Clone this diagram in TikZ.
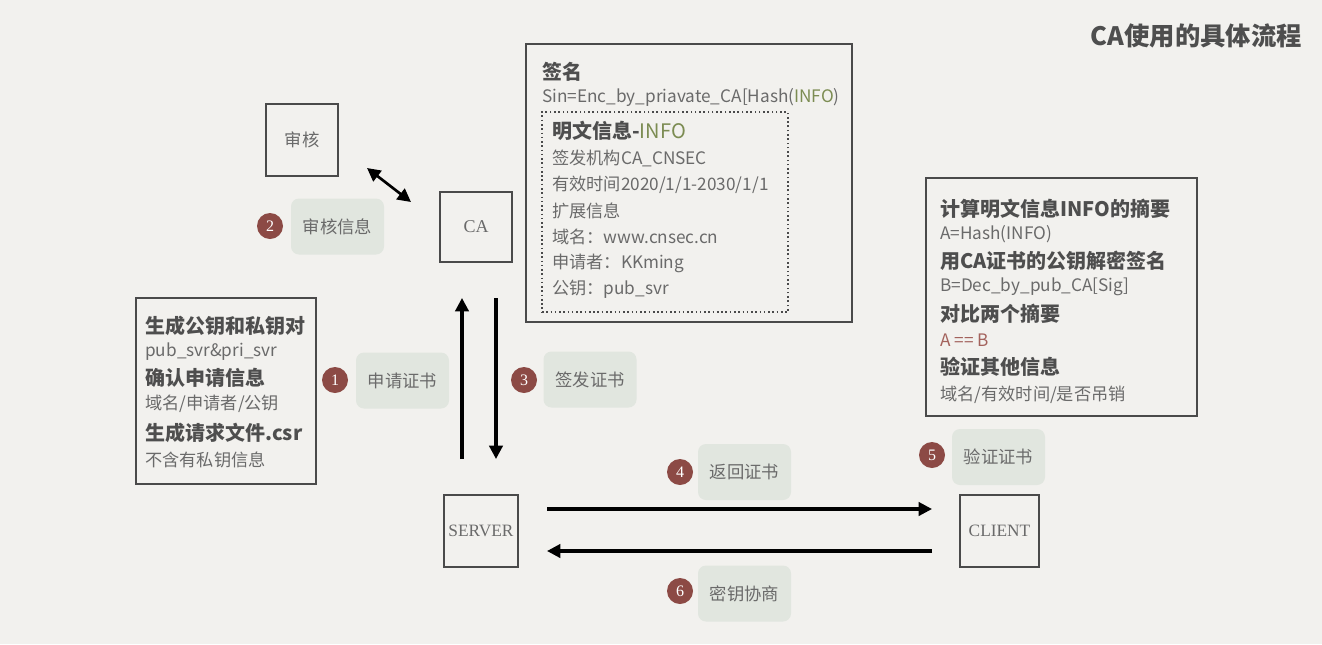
\documentclass[tikz,border=0pt]{standalone}
\usepackage{fontspec}
\setmainfont{Noto Sans CJK SC}
\newfontfamily\latser{Liberation Serif}
\usetikzlibrary{arrows.meta,calc}
\definecolor{bg}{HTML}{F2F1EE}
\definecolor{frame}{HTML}{4A4A4A}
\definecolor{txt}{HTML}{6A6A6A}
\definecolor{txtb}{HTML}{4E4E4E}
\definecolor{lab}{HTML}{E1E6DF}
\definecolor{badge}{HTML}{8C4A45}
\definecolor{info}{HTML}{7C8C52}
\definecolor{eqc}{HTML}{A3625C}
\tikzset{
  ent/.style={draw=frame, line width=1.5pt, fill=none, inner sep=0pt, text=txt},
  panel/.style={draw=frame, line width=1.8pt, inner sep=0pt},
  lbl/.style={fill=lab, rounded corners=6pt, minimum width=69.75pt, minimum height=42pt, inner sep=0pt, text=txt, font=\fontsize{13}{15}\selectfont},
  badgec/.style={circle, fill=badge, minimum size=19.5pt, inner sep=0pt, text=white, font=\latser\fontsize{12}{13}\selectfont},
  hd/.style={anchor=west, inner sep=0pt, text=txtb, font=\fontsize{15}{17}\selectfont\bfseries},
  rg/.style={anchor=west, inner sep=0pt, text=txt, font=\fontsize{12.9}{15}\selectfont},
  arr/.style={line width=2.3pt, -{Triangle[length=10pt,width=10pt]}},
  arrtwo/.style={line width=2pt, {Triangle[length=10pt,width=10pt]}-{Triangle[length=10pt,width=10pt]}}
}
\begin{document}
\begin{tikzpicture}[x=0.75pt,y=-0.75pt]
\fill[bg] (0,0) rectangle (1322,644);
\useasboundingbox (0,0) rectangle (1322,644);

% title
\node[anchor=east, inner sep=0pt, text=txtb, font=\fontsize{19}{21}\selectfont\bfseries] (title) at (1302,36) {CA使用的具体流程};

% entities
\node[ent, minimum width=54pt, minimum height=54pt, font=\fontsize{13}{15}\selectfont] (sh) at (302,140) {审核};
\node[ent, minimum width=54pt, minimum height=52.5pt, font=\latser\fontsize{13.5}{15}\selectfont] (ca) at (476,227) {CA};
\node[ent, minimum width=55.5pt, minimum height=54pt, font=\latser\fontsize{13}{15}\selectfont] (srv) at (481,531) {SERVER};
\node[ent, minimum width=59.25pt, minimum height=54pt, font=\latser\fontsize{13}{15}\selectfont] (cli) at (999.5,531) {CLIENT};

% signature panel
\node[panel, minimum width=244.5pt, minimum height=208.5pt] (sig) at (689,183) {};
\node[draw=frame, line width=1.2pt, dotted, minimum width=184.5pt, minimum height=150pt, inner sep=0pt] (infobox) at (665,212) {};
\node[hd] (s1) at (542,72) {签名};
\node[rg] (s2) at (542,97) {Sin=Enc\_by\_priavate\_CA[Hash(\textcolor{info}{INFO})};
\node[hd] (s3) at (552,131) {明文信息-{\mdseries\textcolor{info}{INFO}}};
\node[rg] (s4) at (552,158) {签发机构CA\_CNSEC};
\node[rg] (s5) at (552,185) {有效时间2020/1/1-2030/1/1};
\node[rg] (s6) at (552,211) {扩展信息};
\node[rg] (s7) at (552,237) {域名：www.cnsec.cn};
\node[rg] (s8) at (552,263) {申请者：KKming};
\node[rg] (s9) at (552,289) {公钥：pub\_svr};

% verify panel
\node[panel, minimum width=203.25pt, minimum height=178.5pt] (ver) at (1061.5,297) {};
\node[hd] (r1) at (940,209) {计算明文信息INFO的摘要};
\node[rg] (r2) at (940,234) {A=Hash(INFO)};
\node[hd] (r3) at (940,261) {用CA证书的公钥解密签名};
\node[rg] (r4) at (940,287) {B=Dec\_by\_pub\_CA[Sig]};
\node[hd] (r5) at (940,314) {对比两个摘要};
\node[rg, text=eqc] (r6) at (940,340) {A == B};
\node[hd] (r7) at (940,367) {验证其他信息};
\node[rg] (r8) at (940,395) {域名/有效时间/是否吊销};

% request panel
\node[panel, minimum width=135pt, minimum height=139.5pt] (req) at (226,391) {};
\node[hd] (l1) at (145,326) {生成公钥和私钥对};
\node[rg] (l2) at (145,352) {pub\_svr\&pri\_svr};
\node[hd] (l3) at (145,378) {确认申请信息};
\node[rg] (l4) at (145,404) {域名/申请者/公钥};
\node[hd] (l5) at (145,433) {生成请求文件.csr};
\node[rg] (l6) at (145,460) {不含有私钥信息};

% labels
\node[lbl] (t2) at (337.5,226.5) {审核信息};
\node[badgec] (b2) at (270,226) {2};
\node[lbl] (t1) at (402.5,380.5) {申请证书};
\node[badgec] (b1) at (335,380) {1};
\node[lbl] (t3) at (590,379.5) {签发证书};
\node[badgec] (b3) at (524,380) {3};
\node[lbl] (t4) at (744.5,472) {返回证书};
\node[badgec] (b4) at (680,472) {4};
\node[lbl] (t5) at (998.5,457) {验证证书};
\node[badgec] (b5) at (932,455) {5};
\node[lbl] (t6) at (744.5,593.5) {密钥协商};
\node[badgec] (b6) at (680,591) {6};

% arrows
\draw[arrtwo] ($(ca.north west)+(-28,11)$) -- ($(sh.south east)+(28,-9)$);
\coordinate (u1) at ($(srv.north)+(-19,-35)$);
\coordinate (u2) at ($(ca.south)+(0,35)$);
\draw[arr] (u1) -- (u1 |- u2);
\coordinate (d1) at ($(ca.south)+(20,35)$);
\coordinate (d2) at ($(srv.north)+(0,-35)$);
\draw[arr] (d1) -- (d1 |- d2);
\draw[arr] ($(srv.east)+(28,-22)$) -- ($(cli.west)+(-27,-22)$);
\draw[arr] ($(cli.west)+(-27,20)$) -- ($(srv.east)+(28,20)$);
\end{tikzpicture}
\end{document}
